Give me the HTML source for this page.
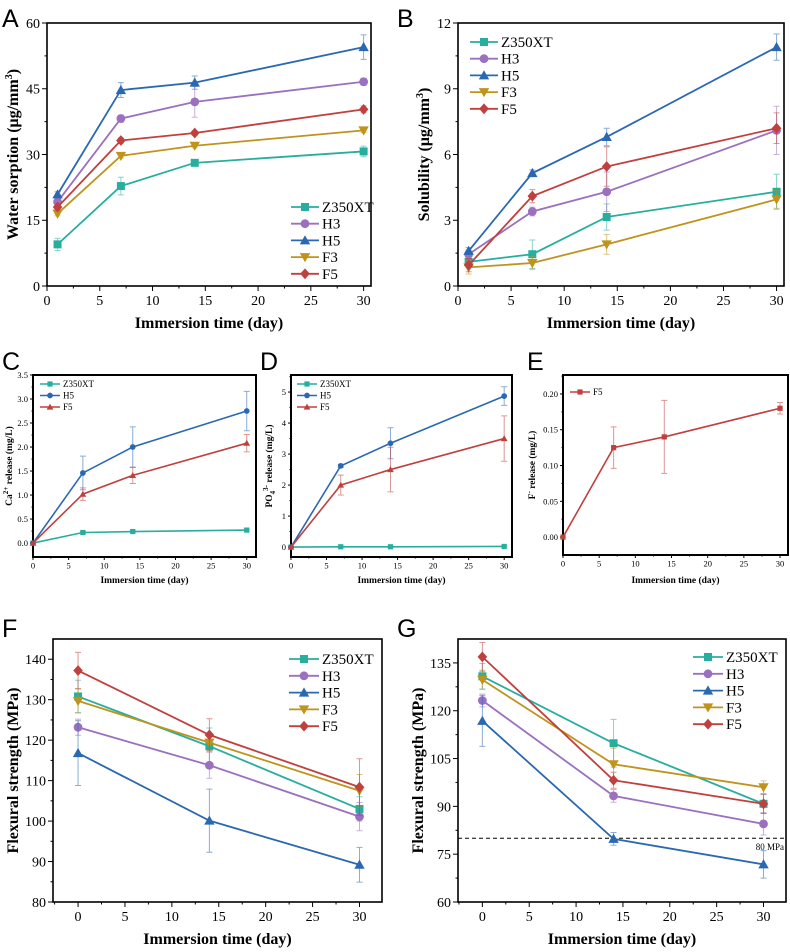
<!DOCTYPE html>
<html><head><meta charset="utf-8"><style>
html,body{margin:0;padding:0;background:#fff}
svg{display:block}
text{font-family:"Liberation Serif",serif}
.lt{font-family:"Liberation Sans",sans-serif;font-size:25px}
</style></head><body>
<svg id="fig" width="790" height="952" viewBox="0 0 790 952" xmlns="http://www.w3.org/2000/svg"></svg>
<script>
// ---- data ----
const daysAB = [1, 7, 14, 30];
const daysCDE = [0, 7, 14, 30];
const daysFG = [0, 14, 30];
const seriesNames = ["Z350XT", "H3", "H5", "F3", "F5"];
// A water sorption
const aZ = [9.5, 22.8, 28.1, 30.7], aZe = [1.4, 2, 0.5, 1.2];
const aH3 = [19.2, 38.2, 42, 46.6], aH3e = [0.8, 0.8, 3.5, 0.8];
const aH5 = [20.9, 44.7, 46.4, 54.5], aH5e = [0.6, 1.7, 1.5, 2.8];
const aF3 = [16.5, 29.7, 32, 35.5], aF3e = [0.5, 0.5, 0.5, 0.5];
const aF5 = [18, 33.2, 34.9, 40.3], aF5e = [0.6, 0.6, 0.5, 0.8];
// B solubility
const bZ = [1.1, 1.45, 3.15, 4.3], bZe = [0.1, 0.65, 0.6, 0.8];
const bH3 = [1.45, 3.4, 4.3, 7.1], bH3e = [0.2, 0.2, 0.9, 1.1];
const bH5 = [1.6, 5.15, 6.8, 10.9], bH5e = [0.15, 0.15, 0.4, 0.6];
const bF3 = [0.85, 1.05, 1.9, 3.95], bF3e = [0.3, 0.3, 0.45, 0.4];
const bF5 = [0.95, 4.1, 5.45, 7.2], bF5e = [0.3, 0.3, 0.9, 0.7];
// C Ca release
const cZ = [0, 0.22, 0.24, 0.27], cZe = [0, 0.02, 0.02, 0.02];
const cH5 = [0, 1.46, 2.0, 2.75], cH5e = [0, 0.35, 0.42, 0.41];
const cF5 = [0, 1.02, 1.41, 2.08], cF5e = [0, 0.13, 0.17, 0.18];
// D PO4 release
const dZ = [0, 0.01, 0.01, 0.02], dZe = [0, 0.02, 0.02, 0.02];
const dH5 = [0, 2.62, 3.35, 4.87], dH5e = [0, 0.05, 0.5, 0.3];
const dF5 = [0, 2.0, 2.5, 3.5], dF5e = [0, 0.32, 0.72, 0.73];
// E F release
const eF5 = [0, 0.125, 0.14, 0.18], eF5e = [0, 0.029, 0.051, 0.008];
// F flexural strength
const fZ = [130.8, 118.5, 103], fZe = [4, 4.5, 3];
const fH3 = [123.2, 113.8, 101.1], fH3e = [2, 3.2, 3.5];
const fH5 = [116.8, 100.1, 89.2], fH5e = [8, 7.8, 4.3];
const fF3 = [129.7, 119.4, 107.5], fF3e = [3, 2, 4];
const fF5 = [137.2, 121.3, 108.4], fF5e = [4.5, 4, 7];
// G flexural strength
const gZ = [130.8, 109.8, 90.8], gZe = [4, 7.5, 3];
const gH3 = [123.2, 93.3, 84.5], gH3e = [2, 2, 3.5];
const gH5 = [116.8, 79.8, 71.8], gH5e = [8, 2, 4.3];
const gF3 = [129.7, 103.2, 96], gF3e = [3, 5, 2];
const gF5 = [136.9, 98.2, 90.8], gF5e = [4.5, 2.5, 3];
const gThreshold = 80;

const xTicks = [0, 5, 10, 15, 20, 25, 30];
const yTicksA = [0, 15, 30, 45, 60];
const yTicksB = [0, 3, 6, 9, 12];
const yTicksC = [0, 0.5, 1, 1.5, 2, 2.5, 3, 3.5];
const yTicksD = [0, 1, 2, 3, 4, 5];
const yTicksE = [0, 0.05, 0.1, 0.15, 0.2];
const yTicksF = [80, 90, 100, 110, 120, 130, 140];
const yTicksG = [60, 75, 90, 105, 120, 135];

const COL = {Z350XT:"#27ae9e", H3:"#9a70bf", H5:"#2a68b2", F3:"#bf931c", F5:"#c0403e"};
const NS = "http://www.w3.org/2000/svg";
const svg = document.getElementById("fig");
function mk(tag, attrs, parent, txt){
  const e = document.createElementNS(NS, tag);
  for (const k in attrs) e.setAttribute(k, attrs[k]);
  if (txt !== undefined) e.textContent = txt;
  (parent || svg).appendChild(e);
  return e;
}
function marker(g, shape, x, y, r, col){
  let e;
  if (shape === "sq") e = mk("rect", {x:x-r, y:y-r, width:2*r, height:2*r, fill:col}, g);
  else if (shape === "ci") e = mk("circle", {cx:x, cy:y, r:r*1.1, fill:col}, g);
  else if (shape === "tu") e = mk("polygon", {points:`${x},${y-r*1.3} ${x-r*1.3},${y+r} ${x+r*1.3},${y+r}`, fill:col}, g);
  else if (shape === "td") e = mk("polygon", {points:`${x},${y+r*1.3} ${x-r*1.3},${y-r} ${x+r*1.3},${y-r}`, fill:col}, g);
  else e = mk("polygon", {points:`${x},${y-r*1.35} ${x+r*1.2},${y} ${x},${y+r*1.35} ${x-r*1.2},${y}`, fill:col}, g);
  
  
}
function panel(c){
  const g = mk("g", {});
  
  
  const sx = v => c.L + (v - c.x0) / (c.x1 - c.x0) * (c.R - c.L);
  const sy = v => c.B - (v - c.y0) / (c.y1 - c.y0) * (c.B - c.T);
  const small = c.small;
  const fs = small ? 8.5 : 14;
  const mt = small ? 3 : 5;
  // frame
  const fr = mk("rect", {x:c.L, y:c.T, width:c.R-c.L, height:c.B-c.T, fill:"none", stroke:"#000", "stroke-width": small?2:1.6}, g);
  
  
  // x ticks
  const xstep = xTicks[1] - xTicks[0];
  xTicks.forEach(t => {
    const x = sx(t);
    mk("line", {x1:x, x2:x, y1:c.B, y2:c.B+mt, stroke:"#000", "stroke-width":1}, g);
    const xm = sx(t + xstep/2);
    if (xm < c.R) mk("line", {x1:xm, x2:xm, y1:c.B, y2:c.B+mt/2, stroke:"#000", "stroke-width":1}, g);
    const tl = mk("text", {x:x, y:c.B+mt+fs, "font-size":fs, "text-anchor":"middle"}, g, t);
    
    
  });
  if (c.x0 < 0) { const xm = sx(-2.5); mk("line", {x1:xm, x2:xm, y1:c.B, y2:c.B+mt/2, stroke:"#000"}, g); }
  const ystep = c.yt[1] - c.yt[0];
  c.yt.forEach(t => {
    const y = sy(t);
    mk("line", {x1:c.L-mt, x2:c.L, y1:y, y2:y, stroke:"#000", "stroke-width":1}, g);
    const ym = sy(t + ystep/2);
    if (ym > c.T) mk("line", {x1:c.L-mt/2, x2:c.L, y1:ym, y2:ym, stroke:"#000", "stroke-width":1}, g);
    const tl = mk("text", {x:c.L-mt-2, y:y+fs*0.35, "font-size":fs, "text-anchor":"end"}, g, c.fmt(t));
    
    
  });
  // titles
  const xl = mk("text", {x:(c.L+c.R)/2, y:c.xlY, "font-size":small?9.5:16, "font-weight":"bold", "text-anchor":"middle"}, g, "Immersion time (day)");
  
  
  const yl = mk("text", {transform:`translate(${c.ylX},${(c.T+c.B)/2}) rotate(-90)`, "font-size":small?9.5:16, "font-weight":"bold", "text-anchor":"middle"}, g);
  yl.innerHTML = c.ylab;
  
  
  const lt = mk("text", {x:c.lx, y:c.ly, class:"lt"}, g, c.letter);
  
  
  // extras
  if (c.extra) c.extra(g, sx, sy);
  // series
  const mr = small ? 2.6 : 4;
  c.series.forEach(s => {
    const col = COL[s.n];
    const sg = mk("g", {}, g);
    
    
    s.v.forEach((v, i) => {
      if (!s.e[i]) return;
      const x = sx(c.xs[i]), y1 = sy(v - s.e[i]), y2 = sy(v + s.e[i]);
      const eb = mk("path", {d:`M${x},${y1}V${y2}M${x-3},${y1}h6M${x-3},${y2}h6`, stroke:col, "stroke-opacity":0.55, "stroke-width":1, fill:"none"}, sg);
      
      
    });
    const ln = mk("polyline", {points:s.v.map((v,i)=>sx(c.xs[i])+","+sy(v)).join(" "), fill:"none", stroke:col, "stroke-width":small?1.6:1.8}, sg);
    
    
    s.v.forEach((v, i) => marker(sg, s.m, sx(c.xs[i]), sy(v), mr, col));
  });
  // legend
  c.series.forEach((s, i) => {
    const col = COL[s.n];
    const y = c.legY + i * c.legDy;
    const lg = mk("g", {}, g);
    
    
    mk("line", {x1:c.legX, x2:c.legX+c.legW, y1:y, y2:y, stroke:col, "stroke-width":small?1.6:1.8}, lg);
    marker(lg, s.m, c.legX+c.legW/2, y, mr, col);
    mk("text", {x:c.legX+c.legW+3, y:y+(small?3:5), "font-size":small?9:15}, lg, s.n);
  });
}
const f0 = t => String(t);
const f1 = t => t.toFixed(1);
const f2 = t => t.toFixed(2);

panel({name:"panel-a-water-sorption", letter:"A", lx:2, ly:27, L:47, R:371, T:23, B:286, x0:0, x1:30.7, y0:0, y1:60, xs:daysAB, yt:yTicksA, fmt:f0,
  xlY:328, ylX:18, ylab:'Water sorption (μg/mm<tspan dy="-6" font-size="10">3</tspan><tspan dy="6">)</tspan>',
  legX:291, legY:207, legDy:16.7, legW:28,
  series:[{n:"Z350XT",v:aZ,e:aZe,m:"sq"},{n:"H3",v:aH3,e:aH3e,m:"ci"},{n:"H5",v:aH5,e:aH5e,m:"tu"},{n:"F3",v:aF3,e:aF3e,m:"td"},{n:"F5",v:aF5,e:aF5e,m:"di"}]});
panel({name:"panel-b-solubility", letter:"B", lx:397, ly:27, L:458, R:784, T:23, B:286, x0:0, x1:30.7, y0:0, y1:12, xs:daysAB, yt:yTicksB, fmt:f0,
  xlY:328, ylX:429, ylab:'Solubility (μg/mm<tspan dy="-6" font-size="10">3</tspan><tspan dy="6">)</tspan>',
  legX:470, legY:42, legDy:16.7, legW:28,
  series:[{n:"Z350XT",v:bZ,e:bZe,m:"sq"},{n:"H3",v:bH3,e:bH3e,m:"ci"},{n:"H5",v:bH5,e:bH5e,m:"tu"},{n:"F3",v:bF3,e:bF3e,m:"td"},{n:"F5",v:bF5,e:bF5e,m:"di"}]});
panel({name:"panel-c-calcium", small:true, letter:"C", lx:2, ly:370, L:33, R:256, T:375, B:557, x0:0, x1:31.3, y0:-0.29, y1:3.5, xs:daysCDE, yt:yTicksC, fmt:f1,
  xlY:583, ylX:12, ylab:'Ca<tspan dy="-4" font-size="7">2+</tspan><tspan dy="4"> release (mg/L)</tspan>',
  legX:40, legY:384, legDy:11.5, legW:20,
  series:[{n:"Z350XT",v:cZ,e:cZe,m:"sq"},{n:"H5",v:cH5,e:cH5e,m:"ci"},{n:"F5",v:cF5,e:cF5e,m:"tu"}]});
panel({name:"panel-d-phosphate", small:true, letter:"D", lx:260, ly:370, L:291, R:512, T:375, B:557, x0:0, x1:31.1, y0:-0.32, y1:5.55, xs:daysCDE, yt:yTicksD, fmt:f0,
  xlY:583, ylX:272, ylab:'PO<tspan dy="3" font-size="7">4</tspan><tspan dy="-7" font-size="7">3-</tspan><tspan dy="4"> release (mg/L)</tspan>',
  legX:297, legY:384, legDy:11.5, legW:20,
  series:[{n:"Z350XT",v:dZ,e:dZe,m:"sq"},{n:"H5",v:dH5,e:dH5e,m:"ci"},{n:"F5",v:dF5,e:dF5e,m:"tu"}]});
panel({name:"panel-e-fluoride", small:true, letter:"E", lx:527, ly:370, L:563, R:788, T:375, B:555, x0:0, x1:31.1, y0:-0.025, y1:0.2265, xs:daysCDE, yt:yTicksE, fmt:f2,
  xlY:583, ylX:535, ylab:'F<tspan dy="-4" font-size="7">-</tspan><tspan dy="4"> release (mg/L)</tspan>',
  legX:570, legY:392, legDy:11.5, legW:20,
  series:[{n:"F5",v:eF5,e:eF5e,m:"sq"}]});
panel({name:"panel-f-flexural", letter:"F", lx:2, ly:637, L:53, R:382, T:639, B:902, x0:-2.67, x1:32.4, y0:80, y1:145, xs:daysFG, yt:yTicksF, fmt:f0,
  xlY:944, ylX:18, ylab:'Flexural strength (MPa)',
  legX:289, legY:659, legDy:16.8, legW:30,
  series:[{n:"Z350XT",v:fZ,e:fZe,m:"sq"},{n:"H3",v:fH3,e:fH3e,m:"ci"},{n:"H5",v:fH5,e:fH5e,m:"tu"},{n:"F3",v:fF3,e:fF3e,m:"td"},{n:"F5",v:fF5,e:fF5e,m:"di"}]});
panel({name:"panel-g-flexural", letter:"G", lx:397, ly:637, L:458, R:786, T:639, B:902, x0:-2.6, x1:32.4, y0:60, y1:142.5, xs:daysFG, yt:yTicksG, fmt:f0,
  xlY:944, ylX:423, ylab:'Flexural strength (MPa)',
  legX:693, legY:657, legDy:16.8, legW:30,
  extra:(g, sx, sy) => {
    const y = sy(gThreshold);
    const dl = mk("line", {x1:458, x2:786, y1:y, y2:y, stroke:"#000", "stroke-width":1, "stroke-dasharray":"4,3"}, g);
    
    
    const tx = mk("text", {x:784, y:y+12, "font-size":9, "text-anchor":"end"}, g, "80 MPa");
    
    
  },
  series:[{n:"Z350XT",v:gZ,e:gZe,m:"sq"},{n:"H3",v:gH3,e:gH3e,m:"ci"},{n:"H5",v:gH5,e:gH5e,m:"tu"},{n:"F3",v:gF3,e:gF3e,m:"td"},{n:"F5",v:gF5,e:gF5e,m:"di"}]});
</script>
</body></html>
